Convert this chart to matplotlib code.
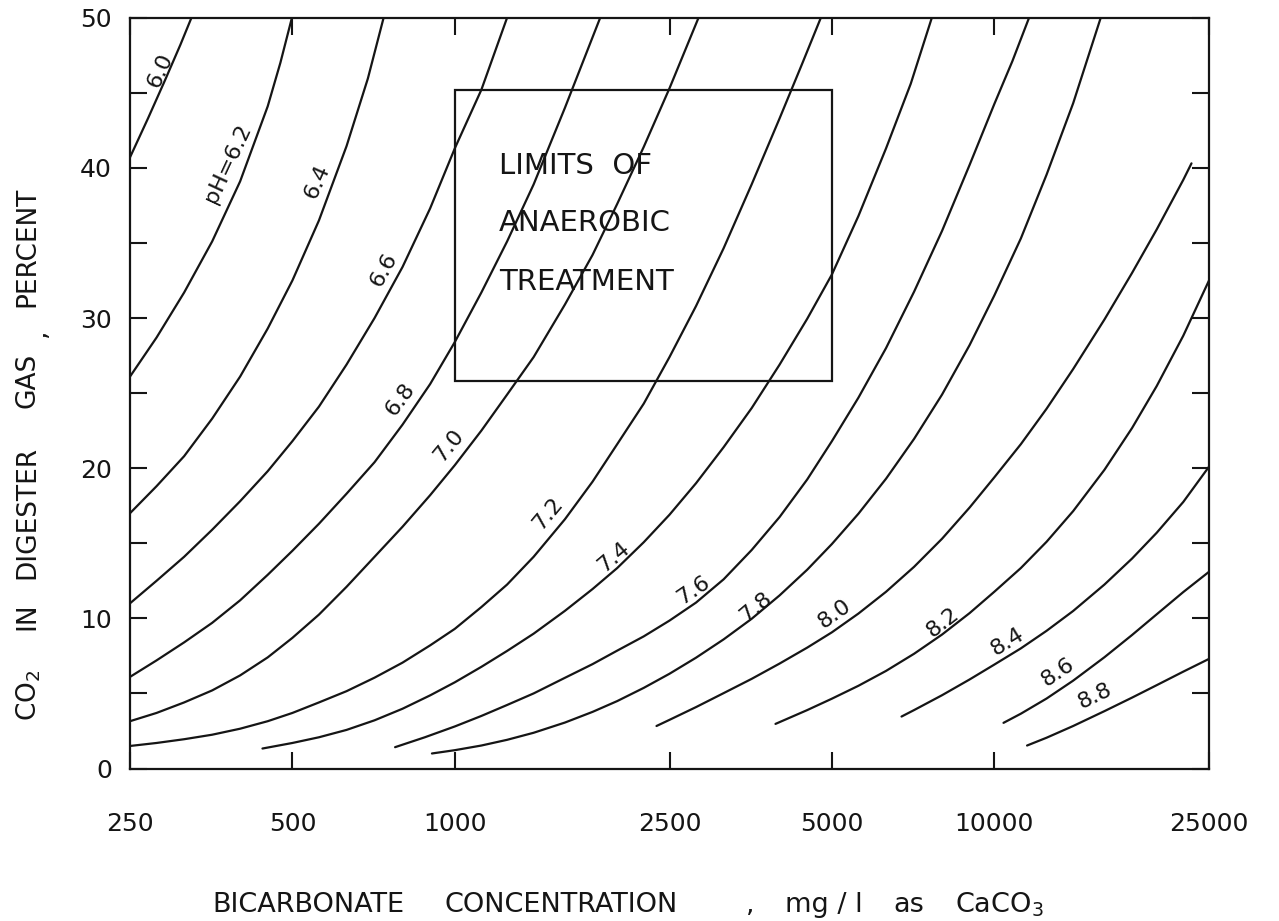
import matplotlib
matplotlib.use("Agg")
import matplotlib.pyplot as plt
import numpy as np
from matplotlib.patches import Rectangle
from matplotlib.ticker import FixedLocator, NullLocator, FixedFormatter, NullFormatter

plt.rcParams['font.family'] = ['DejaVu Sans']
plt.rcParams['mathtext.default'] = 'regular'

# ---------------- data ----------------
ph_names = ["6.0", "6.2", "6.4", "6.6", "6.8", "7.0", "7.2", "7.4",
            "7.6", "7.8", "8.0", "8.2", "8.4", "8.6", "8.8"]

x_ph60 = [250, 270, 290, 310, 325]
y_ph60 = [40.7, 43.3, 45.8, 48.2, 50.0]
x_ph62 = [250, 280, 315, 355, 400, 450, 475, 499]
y_ph62 = [26.1, 28.7, 31.7, 35.1, 39.1, 44.1, 47.0, 50.0]
x_ph64 = [250, 280, 315, 355, 400, 450, 500, 560, 630, 690, 738]
y_ph64 = [17.0, 18.8, 20.8, 23.3, 26.1, 29.3, 32.5, 36.5, 41.45, 45.95, 50.0]
x_ph66 = [250, 280, 315, 355, 400, 450, 500, 560, 630, 710, 800, 900, 1000, 1120, 1250]
y_ph66 = [11.0, 12.5, 14.1, 15.9, 17.8, 19.8, 21.8, 24.1, 26.9, 30.0, 33.4, 37.3, 41.3, 45.2, 50.0]
x_ph68 = [250, 280, 315, 355, 400, 450, 500, 560, 630, 710, 800, 900, 1000, 1120, 1250,
          1400, 1600, 1860]
y_ph68 = [6.1, 7.2, 8.4, 9.7, 11.2, 12.9, 14.5, 16.3, 18.3, 20.4, 22.9, 25.6, 28.4, 31.7, 35.1,
          38.9, 44.0, 50.0]
x_ph70 = [250, 280, 315, 355, 400, 450, 500, 560, 630, 710, 800, 900, 1000, 1120, 1250,
          1400, 1600, 1800, 2000, 2240, 2500, 2830]
y_ph70 = [3.15, 3.7, 4.4, 5.2, 6.2, 7.4, 8.7, 10.25, 12.1, 14.1, 16.1, 18.2, 20.2, 22.5, 24.9,
          27.4, 30.9, 34.2, 37.6, 41.4, 45.3, 50.0]
x_ph72 = [250, 280, 315, 355, 400, 450, 500, 560, 630, 710, 800, 900, 1000, 1120, 1250,
          1400, 1600, 1800, 2000, 2240, 2500, 2800, 3150, 3550, 4000, 4400, 4770]
y_ph72 = [1.5, 1.7, 1.95, 2.25, 2.65, 3.15, 3.7, 4.4, 5.15, 6.05, 7.05, 8.2, 9.3, 10.75, 12.25,
          14.1, 16.6, 19.1, 21.6, 24.3, 27.4, 30.8, 34.65, 38.9, 43.3, 46.9, 50.0]
x_ph74 = [440, 500, 560, 630, 710, 800, 900, 1000, 1120, 1250, 1400, 1600, 1800, 2000,
          2240, 2500, 2800, 3150, 3550, 4000, 4500, 5000, 5600, 6300, 7000, 7660]
y_ph74 = [1.33, 1.70, 2.08, 2.57, 3.21, 3.98, 4.87, 5.74, 6.77, 7.83, 8.98, 10.5, 11.95, 13.35,
          15.07, 16.9, 19.0, 21.4, 24.0, 26.9, 29.95, 32.9, 36.8, 41.3, 45.6, 50.0]
x_ph76 = [775, 880, 1000, 1120, 1250, 1400, 1600, 1800, 2000, 2240, 2500, 2800, 3150, 3550,
          4000, 4500, 5000, 5600, 6300, 7100, 8000, 9000, 10000, 10800, 11600]
y_ph76 = [1.42, 2.08, 2.8, 3.5, 4.23, 5.0, 6.04, 6.95, 7.85, 8.8, 9.85, 11.05, 12.6, 14.55,
          16.75, 19.25, 21.8, 24.7, 28.0, 31.75, 35.8, 40.2, 44.25, 47.1, 50.0]
x_ph78 = [907, 1000, 1120, 1250, 1400, 1600, 1800, 2000, 2240, 2500, 2800, 3150, 3550, 4000,
          4500, 5000, 5600, 6300, 7100, 8000, 9000, 10000, 11200, 12500, 14000, 15750]
y_ph78 = [1.0, 1.22, 1.53, 1.91, 2.38, 3.06, 3.77, 4.49, 5.37, 6.31, 7.38, 8.6, 9.97, 11.53,
          13.24, 14.95, 16.97, 19.3, 21.95, 24.9, 28.2, 31.5, 35.3, 39.55, 44.3, 50.0]
x_ph80 = [2365, 2500, 2800, 3150, 3550, 4000, 4500, 5000, 5600, 6300, 7100, 8000, 9000, 10000,
          11200, 12500, 14000, 16000, 18000, 20000, 22400, 23200]
y_ph80 = [2.83, 3.24, 4.09, 5.02, 5.97, 6.99, 8.05, 9.07, 10.32, 11.77, 13.43, 15.3, 17.38,
          19.39, 21.6, 23.96, 26.6, 29.9, 33.0, 35.9, 39.2, 40.3]
x_ph82 = [3930, 4500, 5000, 5600, 6300, 7100, 8000, 9000, 10000, 11200, 12500, 14000, 16000,
          18000, 20000, 22400, 25000]
y_ph82 = [2.97, 3.89, 4.65, 5.51, 6.5, 7.64, 8.92, 10.35, 11.77, 13.35, 15.1, 17.14, 19.89,
          22.67, 25.47, 28.82, 32.5]
x_ph84 = [6730, 7100, 8000, 9000, 10000, 11200, 12500, 14000, 16000, 18000, 20000, 22400, 25000]
y_ph84 = [3.46, 3.89, 4.88, 5.93, 6.92, 8.0, 9.17, 10.49, 12.25, 13.98, 15.7, 17.75, 20.1]
x_ph86 = [10400, 11200, 12500, 14000, 16000, 18000, 20000, 22400, 25000]
y_ph86 = [3.04, 3.65, 4.66, 5.85, 7.41, 8.89, 10.27, 11.75, 13.1]
x_ph88 = [11500, 12500, 14000, 16000, 18000, 20000, 22400, 25000]
y_ph88 = [1.53, 2.05, 2.83, 3.82, 4.72, 5.55, 6.45, 7.3]

curve_x = [x_ph60, x_ph62, x_ph64, x_ph66, x_ph68, x_ph70, x_ph72, x_ph74,
           x_ph76, x_ph78, x_ph80, x_ph82, x_ph84, x_ph86, x_ph88]
curve_y = [y_ph60, y_ph62, y_ph64, y_ph66, y_ph68, y_ph70, y_ph72, y_ph74,
           y_ph76, y_ph78, y_ph80, y_ph82, y_ph84, y_ph86, y_ph88]

# curve labels (text, anchor in data coordinates)
label_text = ["6.0", "pH=6.2", "6.4", "6.6", "6.8", "7.0", "7.2", "7.4",
              "7.6", "7.8", "8.0", "8.2", "8.4", "8.6", "8.8"]
label_x = [285, 380, 555, 739, 792, 975, 1485, 1966, 2769, 3607, 5062, 8017, 10567, 13101, 15387]
label_y = [46.5, 40.3, 39.1, 33.2, 24.6, 21.5, 16.95, 14.1, 11.85, 10.75, 10.3, 9.75, 8.45, 6.4, 4.85]

# "limits of anaerobic treatment" box
box_x = [1000, 5000]
box_y = [25.8, 45.2]
box_lines = ["LIMITS  OF", "ANAEROBIC", "TREATMENT"]
box_text_x = 1208
box_text_y = [40.1, 36.3, 32.4]

x_ticks = [250, 500, 1000, 2500, 5000, 10000, 25000]
x_ticklabels = ["250", "500", "1000", "2500", "5000", "10000", "25000"]
y_ticks = [0, 10, 20, 30, 40, 50]
y_ticklabels = ["0", "10", "20", "30", "40", "50"]
y_minor = [5, 15, 25, 35, 45]

# ---------------- figure ----------------
W, H = 1279, 921
fig = plt.figure(figsize=(W / 100, H / 100), dpi=100)
ax = fig.add_axes([130 / W, (H - 768.5) / H, (1209 - 130) / W, (768.5 - 17.7) / H])

ink = '#151515'
ax.set_xscale('log')
ax.set_xlim(250, 25000)
ax.set_ylim(0, 50)

for xs, ys in zip(curve_x, curve_y):
    ax.plot(xs, ys, color=ink, lw=1.6, solid_capstyle='round', solid_joinstyle='round')

ax.add_patch(Rectangle((box_x[0], box_y[0]), box_x[1] - box_x[0], box_y[1] - box_y[0],
                       fill=False, edgecolor=ink, lw=1.6))
for t, yy in zip(box_lines, box_text_y):
    ax.text(box_text_x, yy, t, fontsize=21, ha='left', va='center', color=ink)

# rotate each label along its curve
for txt, lx, ly, xs, ys in zip(label_text, label_x, label_y, curve_x, curve_y):
    i = int(np.searchsorted(xs, lx))
    i = min(max(i, 1), len(xs) - 1)
    p0 = ax.transData.transform((xs[i - 1], ys[i - 1]))
    p1 = ax.transData.transform((xs[i], ys[i]))
    ang = np.degrees(np.arctan2(p1[1] - p0[1], p1[0] - p0[0]))
    ax.text(lx, ly, txt, fontsize=16, rotation=ang, rotation_mode='anchor',
            ha='center', va='center', color=ink)

# axes styling
ax.xaxis.set_major_locator(FixedLocator(x_ticks))
ax.xaxis.set_major_formatter(FixedFormatter(x_ticklabels))
ax.xaxis.set_minor_locator(NullLocator())
ax.yaxis.set_major_locator(FixedLocator(y_ticks))
ax.yaxis.set_major_formatter(FixedFormatter(y_ticklabels))
ax.yaxis.set_minor_locator(FixedLocator(y_minor))
ax.yaxis.set_minor_formatter(NullFormatter())
ax.tick_params(which='both', direction='in', length=12, width=1.5, color=ink,
               top=True, right=True, labelsize=18, labelcolor=ink)
ax.tick_params(axis='x', pad=31)
ax.tick_params(axis='y', pad=13)
for s in ax.spines.values():
    s.set_linewidth(1.6)
    s.set_color(ink)

# x-axis title pieces
xl_y = 1 - 912 / H
for t, px in [("BICARBONATE", 212), ("CONCENTRATION", 445), (",", 746),
              ("mg / l", 785), ("as", 893), ("CaCO$_3$", 955)]:
    fig.text(px / W, xl_y, t, fontsize=19.5, ha='left', va='baseline', color=ink)

# y-axis title pieces (rotated)
for t, py, px in [("PERCENT", 247, 27), (",", 333, 38), ("GAS", 380, 27),
                  ("DIGESTER", 512, 27), ("IN", 616, 27), ("CO$_2$", 695, 29)]:
    fig.text(px / W, 1 - py / H, t, fontsize=19, rotation=90, ha='center', va='center',
             color=ink)

fig.savefig("out.png", dpi=100, facecolor='white')
